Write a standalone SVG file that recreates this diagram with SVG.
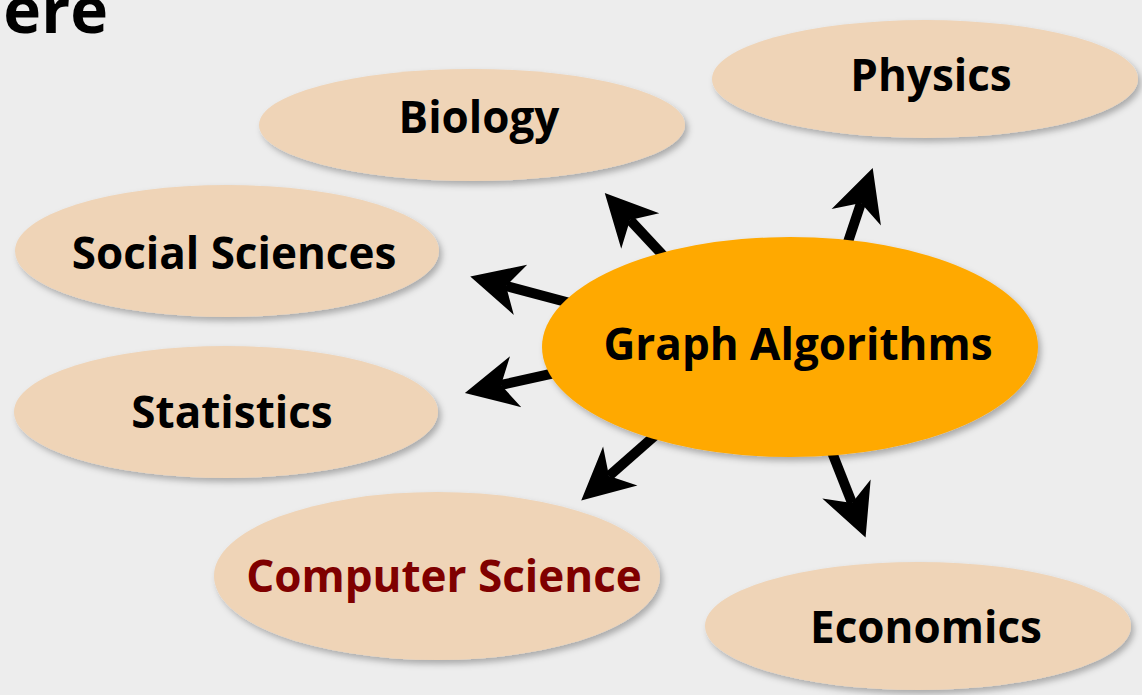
<svg xmlns="http://www.w3.org/2000/svg" width="1142" height="695" viewBox="0 0 1142 695">
  <defs>
    <filter id="shadow" x="-10%" y="-20%" width="125%" height="150%">
      <feDropShadow dx="3" dy="4" stdDeviation="3" flood-color="#000" flood-opacity="0.28"/>
    </filter>
    <marker id="head" markerUnits="userSpaceOnUse" viewBox="-20 -30 60 60" markerWidth="60" markerHeight="60" refX="0" refY="0" orient="auto" overflow="visible">
      <path d="M37,0 L-15,-26 L0,0 L-15,26 Z" fill="#000"/>
    </marker>
    <style>
      .topic { fill: #EFD4B7; filter: url(#shadow); }
      .hub { fill: #FFA900; filter: url(#shadow); }
      .lbl { font-family: "Open Sans", "Liberation Sans", sans-serif; font-weight: bold; font-size: 44px; fill: #000; text-anchor: middle; }
      .cs { fill: #7F0000; }
      .arrow { stroke: #000; stroke-width: 10; fill: none; marker-end: url(#head); }
    </style>
  </defs>
  <rect x="0" y="0" width="1142" height="695" fill="#EDEDED"/>
  <text x="108" y="33" font-family="Open Sans, Liberation Sans, sans-serif" font-weight="bold" font-size="64" text-anchor="end" fill="#000">ere</text>

  <g id="node-biology">
    <ellipse class="topic" cx="472" cy="125" rx="213" ry="56"/>
    <text class="lbl" x="479" y="133">Biology</text>
  </g>
  <g id="node-physics">
    <ellipse class="topic" cx="925" cy="79" rx="213" ry="59"/>
    <text class="lbl" x="931" y="91">Physics</text>
  </g>
  <g id="node-social">
    <ellipse class="topic" cx="227" cy="251" rx="212" ry="66"/>
    <text class="lbl" x="234" y="269">Social Sciences</text>
  </g>
  <g id="node-statistics">
    <ellipse class="topic" cx="226" cy="412" rx="212" ry="66"/>
    <text class="lbl" x="232" y="428">Statistics</text>
  </g>
  <g id="node-cs">
    <ellipse class="topic" cx="437" cy="576" rx="223" ry="84"/>
    <text class="lbl cs" x="444" y="592">Computer Science</text>
  </g>
  <g id="node-economics">
    <ellipse class="topic" cx="918" cy="626" rx="213" ry="64"/>
    <text class="lbl" x="926" y="643">Economics</text>
  </g>

  <g id="connectors">
    <line class="arrow" x1="700" y1="295" x2="630" y2="220"/>
    <line class="arrow" x1="600" y1="311" x2="506" y2="286"/>
    <line class="arrow" x1="600" y1="363" x2="501" y2="385"/>
    <line class="arrow" x1="700" y1="396" x2="609" y2="476"/>
    <line class="arrow" x1="822" y1="427" x2="852" y2="503"/>
    <line class="arrow" x1="830" y1="296" x2="861" y2="203"/>
  </g>

  <g id="node-graph-algorithms">
    <ellipse class="hub" cx="790" cy="347" rx="248" ry="110"/>
    <text class="lbl" x="798" y="360">Graph Algorithms</text>
  </g>
</svg>
